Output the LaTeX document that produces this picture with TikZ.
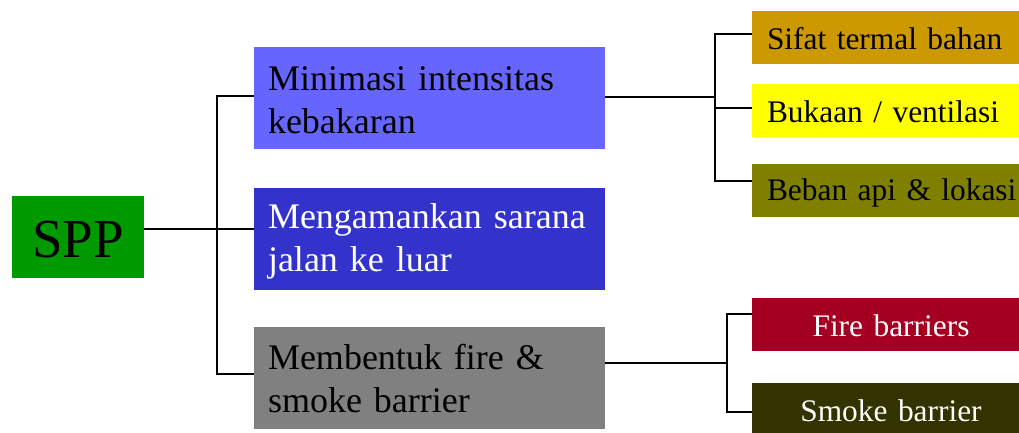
\documentclass[tikz,border=0pt]{standalone}
\usepackage{fontspec}
\setmainfont{Liberation Serif}
\definecolor{cspp}{HTML}{009900}
\definecolor{cb1}{HTML}{6666FF}
\definecolor{cb2}{HTML}{3333CC}
\definecolor{cb3}{HTML}{808080}
\definecolor{cs1}{HTML}{CC9900}
\definecolor{cs2}{HTML}{FFFF00}
\definecolor{cs3}{HTML}{808000}
\definecolor{cf1}{HTML}{A50021}
\definecolor{cf2}{HTML}{333300}
\begin{document}
\begin{tikzpicture}[x=1pt,y=-1pt,
  conn/.style={draw=black,line width=2pt},
  midbox/.style={rectangle,draw=none,minimum width=351pt,minimum height=102pt,
    text width=323pt,align=left,inner xsep=14pt,inner ysep=0pt,
    font=\fontsize{36}{43}\selectfont,
    execute at begin node={\rule{0pt}{30pt}},
    execute at end node={\rule[-3pt]{0pt}{3pt}}},
  leafbox/.style={rectangle,draw=none,minimum width=300pt,minimum height=53pt,
    text width=270pt,align=left,inner xsep=15pt,inner ysep=0pt,
    font=\fontsize{31.4}{38}\selectfont,
    execute at begin node={\rule{0pt}{26pt}},
    execute at end node={\rule[-2pt]{0pt}{2pt}}},
  leafc/.style={leafbox,minimum width=278pt,text width=248pt,align=center}]
\useasboundingbox (0,0) rectangle (1019,432);
\node[rectangle,fill=cspp,minimum width=132pt,minimum height=82pt,inner sep=0pt,
  font=\fontsize{55}{60}\selectfont] (spp) at (78,237)
  {\rule{0pt}{42pt}SPP\rule[-2pt]{0pt}{2pt}\hspace{9pt}};
\node[midbox,fill=cb1,text=black] (b1) at (429.5,98) {Minimasi intensitas\\kebakaran};
\node[midbox,fill=cb2,text=white] (b2) at (429.5,239) {Mengamankan sarana\\jalan ke luar};
\node[midbox,fill=cb3,text=black] (b3) at (429.5,377.5) {Membentuk fire \&\\smoke barrier};
\node[leafbox,fill=cs1,text=black] (s1) at (902,37.5) {Sifat termal bahan};
\node[leafbox,fill=cs2,text=black] (s2) at (902,110.5) {Bukaan / ventilasi};
\node[leafbox,fill=cs3,text=black] (s3) at (902,190.5) {Beban api \& lokasi};
\node[leafc,fill=cf1,text=white] (f1) at (891,324.5) {Fire barriers};
\node[leafc,fill=cf2,text=white] (f2) at (891,409.5) {Smoke barrier};
\coordinate (j1) at (217,229);
\coordinate (j2) at (715,97);
\coordinate (j3) at (727,363);
\draw[conn] ([yshift=8pt]spp.east) -- ([yshift=10pt]b2.west);
\draw[conn] ([yshift=2pt]b1.west) -| (j1) |- ([yshift=3.5pt]b3.west);
\draw[conn] ([yshift=1pt]b1.east) -- (j2);
\draw[conn] ([yshift=3.5pt]s1.west) -| (j2) |- ([yshift=9.5pt]s3.west);
\draw[conn] ([yshift=2.5pt]s2.west) -- ([yshift=2.5pt]s2.west -| j2);
\draw[conn] ([yshift=14.5pt]b3.east) -- (j3);
\draw[conn] ([yshift=10.5pt]f1.west) -| (j3) |- ([yshift=-2.5pt]f2.west);
\end{tikzpicture}
\end{document}
